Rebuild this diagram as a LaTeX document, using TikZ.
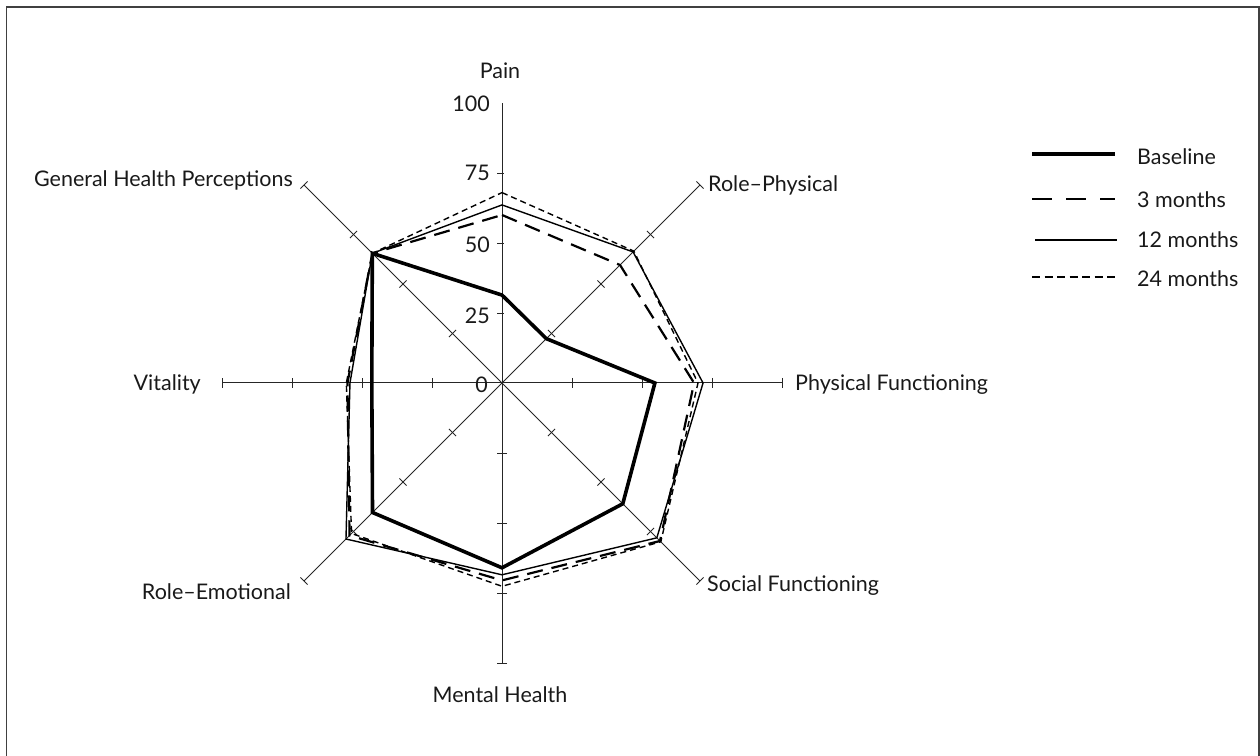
\documentclass[tikz,border=0pt]{standalone}
\usepackage{fontspec}
\setmainfont{Lato}
\usetikzlibrary{calc}
\begin{document}
\begin{tikzpicture}[x=1pt,y=1pt,
  axisline/.style={line width=1pt, draw=black!85},
  tickmark/.style={line width=0.9pt, draw=black!85},
  base/.style={line width=3.6pt, line join=miter},
  mthree/.style={line width=2.2pt, dash pattern=on 16pt off 9pt},
  mtwelve/.style={line width=1.4pt},
  mtwentyfour/.style={line width=1.4pt, dash pattern=on 6pt off 4pt},
  legthree/.style={line width=2.4pt, dash pattern=on 20pt off 14pt},
  legtwentyfour/.style={line width=1.4pt, dash pattern=on 8pt off 4.5pt},
  lbl/.style={font=\fontsize{21.5}{24}\selectfont, inner sep=0pt, text=black!90},
]
\useasboundingbox (0,0) rectangle (1260,755);
\draw[line width=1.6pt, black!75] (6.5,-5) -- (6.5,748) -- (1259,748) -- (1259,-5);

\coordinate (O) at (502,372);

% axes
\foreach \a in {90,45,0,-45,-90,-135,180,135}{
  \draw[axisline] (O) -- ($(O)+(\a:280)$);
}
% ticks
\foreach \a in {45,0,-45,-90,-135,180,135}{
  \foreach \r in {70,140,210,280}{
    \draw[tickmark] ($(O)+(\a:\r)+({\a+90}:5)$) -- ($(O)+(\a:\r)+({\a-90}:5)$);
  }
}
\foreach \r in {70,140,210}{
  \draw[tickmark] ($(O)+(0,\r)+(-5,0)$) -- ($(O)+(0,\r)+(1.5,0)$);
}

% data
\begin{scope}[shift={(502,372)}]
\draw[mtwentyfour] (90:{2.8*68}) -- (45:{2.8*66.6}) -- (0:{2.8*70}) -- (-45:{2.8*80.2}) -- (-90:{2.8*72.6}) -- (-135:{2.8*76}) -- (180:{2.8*55.6}) -- (135:{2.8*65.5}) -- cycle;
\draw[mthree] (90:{2.8*60}) -- (45:{2.8*59.6}) -- (0:{2.8*68.6}) -- (-45:{2.8*79.8}) -- (-90:{2.8*70.5}) -- (-135:{2.8*77}) -- (180:{2.8*55.2}) -- (135:{2.8*65.5}) -- cycle;
\draw[mtwelve] (90:{2.8*63.6}) -- (45:{2.8*66.2}) -- (0:{2.8*71.8}) -- (-45:{2.8*78.2}) -- (-90:{2.8*68.5}) -- (-135:{2.8*78.8}) -- (180:{2.8*54.3}) -- (135:{2.8*65.5}) -- cycle;
\draw[base] (90:{2.8*31.4}) -- (45:{2.8*22.4}) -- (0:{2.8*54.6}) -- (-45:{2.8*61}) -- (-90:{2.8*66}) -- (-135:{2.8*65.4}) -- (180:{2.8*46.5}) -- (135:{2.8*65.5}) -- cycle;
\end{scope}

% scale labels
\node[lbl, anchor=east] (n100) at (490,651) {100};
\node[lbl, anchor=east] (n75) at (490,582) {75};
\node[lbl, anchor=east] (n50) at (490,510) {50};
\node[lbl, anchor=east] (n25) at (490,439) {25};
\node[lbl, anchor=east] (n0) at (488,370) {0};

% axis labels
\node[lbl, anchor=base] (pain) at (500,676) {Pain};
\node[lbl, anchor=base west] (rp) at (708,563) {Role–Physical};
\node[lbl, anchor=base west] (pf) at (795,364) {Physical Functioning};
\node[lbl, anchor=base west] (sf) at (707,163) {Social Functioning};
\node[lbl, anchor=base] (mh) at (500,53) {Mental Health};
\node[lbl, anchor=base east] (re) at (291,155) {Role–Emotional};
\node[lbl, anchor=base east] (vit) at (201,364) {Vitality};
\node[lbl, anchor=base east] (ghp) at (293,568) {General Health Perceptions};

% legend
\node[lbl, anchor=west] (lb) at (1137,598) {Baseline};
\node[lbl, anchor=west] (l3) at (1137,555) {3 months};
\node[lbl, anchor=west] (l12) at (1137,515) {12 months};
\node[lbl, anchor=west] (l24) at (1137,476) {24 months};
\coordinate (lbA) at (1032,601); \coordinate (lbB) at (1115,601);
\coordinate (l3A) at (1032,556); \coordinate (l3B) at (1115,556);
\coordinate (l12A) at (1035,515); \coordinate (l12B) at (1117,515);
\coordinate (l24A) at (1032,478); \coordinate (l24B) at (1117,478);
\draw[base] (lbA) -- (lbB);
\draw[legthree] (l3A) -- (l3B);
\draw[mtwelve] (l12A) -- (l12B);
\draw[legtwentyfour] (l24A) -- (l24B);
\end{tikzpicture}
\end{document}
